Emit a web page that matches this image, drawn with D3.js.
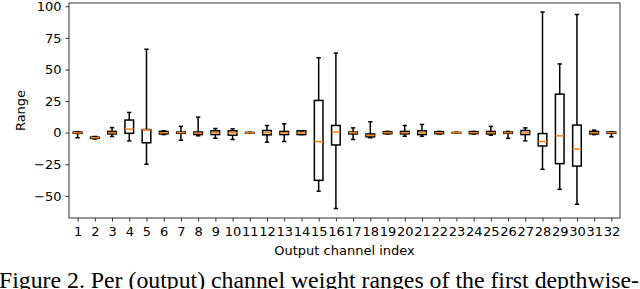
<!DOCTYPE html>
<html>
<head>
<meta charset="utf-8">
<script src="https://cdn.jsdelivr.net/npm/d3@7"></script>
<style>
  body { margin: 0; background: #fff; }
  svg { display: block; }
  .tick text { font-family: "DejaVu Sans", sans-serif; font-size: 13px; fill: #000; }
</style>
</head>
<body>
<div id="chart"></div>
<script>
/* Channel indices and box statistics. */
const channels = d3.range(1, 33);
const whiskerLow = [-4, -5, -3, -6.5, -25, -1.5, -6, -2.5, -4.4, -5.4,
  -0.3, -7.5, -7, -1.5, -46.3, -60, -5.4, -4, -1, -2.8,
  -2.8, -1, -0.3, -1, -2, -4.5, -6.5, -29, -44.8, -56.6,
  -1.5, -3.3];
const q1 = [-0.5, -4.5, -1, -0.5, -8, -1, -0.5, -1.5, -1.5, -2,
  -0.2, -1.7, -1.5, -1.5, -37.7, -9.7, -1, -3.3, -0.8, -1,
  -1.5, -0.8, -0.2, -0.8, -1, -0.5, -1.5, -10.5, -24.5, -26.4,
  -1, -0.5];
const medians = [0, -4, 0, 2.8, 2.2, 0, 0, -0.5, 0, 0,
  0, 0, 0, 0, -7, 0.4, 0, -2.2, 0, 0,
  0, 0, 0, 0, 0, 0, 0, -7, -2.5, -13,
  0, 0];
const q3 = [0.5, -3.5, 1, 10, 2.5, 1, 0.5, 0.5, 1.5, 1.5,
  0.2, 1.7, 1, 1.5, 25.5, 5.7, 0.5, -1, 0.8, 1,
  1.5, 0.8, 0.2, 0.8, 1, 0.5, 1.7, -0.7, 30.5, 6,
  1, 0.5];
const whiskerHigh = [0.8, -3, 4, 16, 66, 1.5, 5, 12.3, 3.3, 3,
  0.3, 5.7, 7, 1.5, 59.3, 63, 3.8, 8.6, 1, 5.7,
  6.5, 1, 0.3, 1, 5, 1, 3.8, 95.5, 54.4, 93.5,
  2, 0.7];
const yTicks = [-50, -25, 0, 25, 50, 75, 100];

const width = 640, height = 289;
const margin = { top: 3, right: 20, bottom: 71, left: 69 };

const svg = d3.select("#chart").append("svg")
  .attr("width", width)
  .attr("height", height);

/* Scales: matplotlib puts box i at x = i with limits 0.5..32.5. */
const x = d3.scaleLinear()
  .domain([0.5, 32.5])
  .range([margin.left, width - margin.right]);
const y = d3.scaleLinear()
  .domain([-67.5, 102.6])
  .range([height - margin.bottom, margin.top]);

const boxW = (x(1.25) - x(0.75));
const capW = boxW / 2;

const boxes = channels.map((c, i) => ({
  c, lo: whiskerLow[i], q1: q1[i], med: medians[i], q3: q3[i], hi: whiskerHigh[i]
}));

const g = svg.append("g");

/* Whiskers */
g.selectAll("line.whisker-lo").data(boxes).enter().append("line")
  .attr("x1", d => x(d.c)).attr("x2", d => x(d.c))
  .attr("y1", d => y(d.q1)).attr("y2", d => y(d.lo))
  .attr("stroke", "#000").attr("stroke-width", 1.5);
g.selectAll("line.whisker-hi").data(boxes).enter().append("line")
  .attr("x1", d => x(d.c)).attr("x2", d => x(d.c))
  .attr("y1", d => y(d.q3)).attr("y2", d => y(d.hi))
  .attr("stroke", "#000").attr("stroke-width", 1.5);

/* Caps */
["lo", "hi"].forEach(k => {
  g.selectAll("line.cap-" + k).data(boxes).enter().append("line")
    .attr("x1", d => x(d.c) - capW / 2).attr("x2", d => x(d.c) + capW / 2)
    .attr("y1", d => y(d[k])).attr("y2", d => y(d[k]))
    .attr("stroke", "#000").attr("stroke-width", 1.5);
});

/* Boxes */
g.selectAll("rect.box").data(boxes).enter().append("rect")
  .attr("x", d => x(d.c) - boxW / 2)
  .attr("width", boxW)
  .attr("y", d => y(d.q3))
  .attr("height", d => Math.max(0, y(d.q1) - y(d.q3)))
  .attr("fill", "none")
  .attr("stroke", "#000").attr("stroke-width", 1.5);

/* Medians */
g.selectAll("line.median").data(boxes).enter().append("line")
  .attr("x1", d => x(d.c) - boxW / 2).attr("x2", d => x(d.c) + boxW / 2)
  .attr("y1", d => y(d.med)).attr("y2", d => y(d.med))
  .attr("stroke", "#ff7f0e").attr("stroke-width", 1.5);

/* Axes */
const xAxis = svg.append("g")
  .attr("transform", "translate(0," + (height - margin.bottom) + ")")
  .call(d3.axisBottom(x).tickValues(channels).tickSize(3.5).tickPadding(5).tickFormat(d3.format("d")));
const yAxis = svg.append("g")
  .attr("transform", "translate(" + margin.left + ",0)")
  .call(d3.axisLeft(y).tickValues(yTicks).tickSize(3.5).tickPadding(4)
    .tickFormat(d => d < 0 ? "\u2212" + Math.abs(d) : d));
[xAxis, yAxis].forEach(a => {
  a.select(".domain").remove();
  a.selectAll(".tick line").attr("stroke", "#000").attr("stroke-width", 0.8);
});

/* Frame */
svg.append("rect")
  .attr("x", margin.left).attr("y", margin.top)
  .attr("width", width - margin.left - margin.right)
  .attr("height", height - margin.top - margin.bottom)
  .attr("fill", "none").attr("stroke", "#000").attr("stroke-width", 0.8);

/* Axis labels */
svg.append("text")
  .attr("x", (margin.left + width - margin.right) / 2)
  .attr("y", 255)
  .attr("text-anchor", "middle")
  .style("font-family", "DejaVu Sans, sans-serif").style("font-size", "13px")
  .text("Output channel index");
svg.append("text")
  .attr("transform", "translate(25," + (margin.top + (height - margin.bottom - margin.top) / 2) + ") rotate(-90)")
  .attr("text-anchor", "middle")
  .style("font-family", "DejaVu Sans, sans-serif").style("font-size", "13px")
  .text("Range");

/* Caption below the figure (cut off at the bottom, as in the source) */
svg.append("text")
  .attr("x", -1)
  .attr("y", 288)
  .attr("textLength", 640)
  .attr("lengthAdjust", "spacingAndGlyphs")
  .style("font-family", "Liberation Serif, Times New Roman, serif").style("font-size", "23px")
  .text("Figure 2. Per (output) channel weight ranges of the first depthwise-");
</script>
</body>
</html>
